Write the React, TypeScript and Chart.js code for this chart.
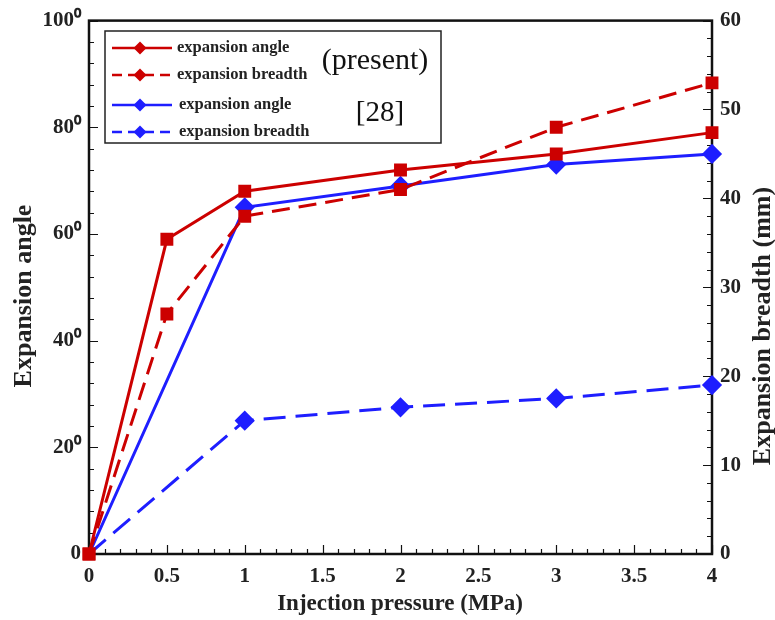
import React, { useEffect, useRef } from "react";
import { Chart, registerables } from "chart.js";

Chart.register(...registerables);

const presentPressure = [0, 0.5, 1, 2, 3, 4];
const presentAngle = [0, 59, 68, 72, 75, 79];
const presentBreadth = [0, 27, 38, 41, 48, 53];
const refPressure = [0, 1, 2, 3, 4];
const refAngle = [0, 65, 69, 73, 75];
const refBreadth = [0, 15, 16.5, 17.5, 19];

const legendLabels = ["expansion angle", "expansion breadth", "expansion angle", "expansion breadth"];
const groupLabels = ["(present)", "[28]"];
const xTitle = "Injection pressure (MPa)";
const yTitle = "Expansion angle";
const y1Title = "Expansion breadth (mm)";

const RED = "#cc0000";
const BLUE = "#1e1eff";
const SERIF = "'Liberation Serif', 'Times New Roman', serif";

const toXY = (xs: number[], ys: number[]) => xs.map((x, i) => ({ x, y: ys[i] }));

const framePlugin = {
  id: "frame",
  beforeDatasetsDraw(chart: any) {
    const { ctx, chartArea: a, scales } = chart;
    ctx.save();
    ctx.strokeStyle = "#111";
    ctx.lineWidth = 1.2;
    const x = scales.x, yl = scales.y, yr = scales.y1;
    ctx.beginPath();
    for (let v = 0; v <= 4.0001; v += 0.1) {
      const px = Math.round(x.getPixelForValue(v)) + 0.5;
      const major = Math.abs(v * 2 - Math.round(v * 2)) < 1e-6;
      const len = major ? 9 : 5;
      ctx.moveTo(px, a.bottom);
      ctx.lineTo(px, a.bottom - len);
    }
    for (let v = 0; v <= 100.001; v += 4) {
      const py = Math.round(yl.getPixelForValue(v)) + 0.5;
      const len = v % 20 === 0 ? 9 : 5;
      ctx.moveTo(a.left, py);
      ctx.lineTo(a.left + len, py);
    }
    for (let v = 0; v <= 60.001; v += 2) {
      const py = Math.round(yr.getPixelForValue(v)) + 0.5;
      const len = v % 10 === 0 ? 9 : 5;
      ctx.moveTo(a.right, py);
      ctx.lineTo(a.right - len, py);
    }
    ctx.stroke();
    ctx.lineWidth = 2.5;
    ctx.strokeRect(a.left, a.top, a.right - a.left, a.bottom - a.top);
    ctx.restore();
  },
  afterDatasetsDraw(chart: any) {
    const { ctx } = chart;
    ctx.save();
    // axis titles
    ctx.fillStyle = "#222";
    ctx.textAlign = "center";
    ctx.textBaseline = "middle";
    ctx.font = `bold 23px ${SERIF}`;
    ctx.fillText(xTitle, 400, 604);
    ctx.font = `bold 26px ${SERIF}`;
    ctx.save();
    ctx.translate(24, 296);
    ctx.rotate(-Math.PI / 2);
    ctx.fillText(yTitle, 0, 0);
    ctx.restore();
    ctx.save();
    ctx.translate(763, 326);
    ctx.rotate(-Math.PI / 2);
    ctx.fillText(y1Title, 0, 0);
    ctx.restore();

    // legend box
    const bx = 105, by = 31, bw = 336, bh = 112;
    ctx.fillStyle = "#fff";
    ctx.fillRect(bx, by, bw, bh);
    ctx.strokeStyle = "#222";
    ctx.lineWidth = 1.5;
    ctx.strokeRect(bx, by, bw, bh);
    const rows = [48, 75, 105, 132];
    const colors = [RED, RED, BLUE, BLUE];
    const dashed = [false, true, false, true];
    rows.forEach((ry, i) => {
      ctx.strokeStyle = colors[i];
      ctx.fillStyle = colors[i];
      ctx.lineWidth = 2.5;
      ctx.setLineDash(dashed[i] ? [10, 6] : []);
      ctx.beginPath();
      ctx.moveTo(112, ry);
      ctx.lineTo(172, ry);
      ctx.stroke();
      ctx.setLineDash([]);
      ctx.beginPath();
      const cx = 140, r = 6.5;
      ctx.moveTo(cx, ry - r);
      ctx.lineTo(cx + r, ry);
      ctx.lineTo(cx, ry + r);
      ctx.lineTo(cx - r, ry);
      ctx.closePath();
      ctx.fill();
      ctx.fillStyle = "#222";
      ctx.font = `bold 16.5px ${SERIF}`;
      ctx.textBaseline = "middle";
      ctx.textAlign = "left";
      ctx.fillText(legendLabels[i], i < 2 ? 177 : 179, ry);
    });
    ctx.textAlign = "center";
    ctx.textBaseline = "middle";
    ctx.fillStyle = "#111";
    ctx.font = `30px ${SERIF}`;
    ctx.fillText(groupLabels[0], 375, 61);
    ctx.font = `29px ${SERIF}`;
    ctx.fillText(groupLabels[1], 380, 113);
    ctx.restore();
  },
};

export default function App() {
  const ref = useRef<HTMLCanvasElement>(null);
  useEffect(() => {
    const tickFont = { family: SERIF, size: 21, weight: "bold" as const };
    const chart = new Chart(ref.current!, {
      type: "line",
      data: {
        datasets: [
          {
            label: "expansion angle (present)",
            data: toXY(presentPressure, presentAngle),
            borderColor: RED,
            backgroundColor: RED,
            borderWidth: 3,
            pointStyle: "rect",
            pointRadius: 7,
            yAxisID: "y",
            clip: false as any,
          },
          {
            label: "expansion breadth (present)",
            data: toXY(presentPressure, presentBreadth),
            borderColor: RED,
            backgroundColor: RED,
            borderWidth: 3,
            borderDash: [18, 9],
            pointStyle: "rect",
            pointRadius: 7,
            yAxisID: "y1",
            clip: false as any,
          },
          {
            label: "expansion angle [28]",
            data: toXY(refPressure, refAngle),
            borderColor: BLUE,
            backgroundColor: BLUE,
            borderWidth: 3,
            pointStyle: "rectRot",
            pointRadius: refPressure.map((p) => (p === 0 ? 0 : 8)),
            yAxisID: "y",
            clip: false as any,
          },
          {
            label: "expansion breadth [28]",
            data: toXY(refPressure, refBreadth),
            borderColor: BLUE,
            backgroundColor: BLUE,
            borderWidth: 3,
            borderDash: [22, 10],
            pointStyle: "rectRot",
            pointRadius: refPressure.map((p) => (p === 0 ? 0 : 8)),
            yAxisID: "y1",
            clip: false as any,
          },
        ],
      },
      options: {
        animation: false,
        responsive: true,
        maintainAspectRatio: false,
        layout: { padding: { top: 16, left: 0, right: 0, bottom: 0 } },
        plugins: { legend: { display: false }, tooltip: { enabled: false } },
        scales: {
          x: {
            type: "linear",
            min: 0,
            max: 4,
            grid: { display: false, drawTicks: false },
            border: { display: false },
            ticks: {
              stepSize: 0.5,
              color: "#222",
              font: tickFont,
              padding: 10,
              autoSkip: false,
              maxRotation: 0,
              callback: (v: any) => `${v}`,
            },
            afterFit: (s: any) => { s.height = 66; },
          },
          y: {
            position: "left",
            min: 0,
            max: 100,
            grid: { display: false, drawTicks: false },
            border: { display: false },
            ticks: {
              stepSize: 20,
              color: "#222",
              font: tickFont,
              padding: 8,
              callback: (v: any) => (v === 0 ? "0" : `${v}\u2070`),
            },
            afterFit: (s: any) => { s.width = 89; },
          },
          y1: {
            position: "right",
            min: 0,
            max: 60,
            grid: { display: false, drawTicks: false },
            border: { display: false },
            ticks: { stepSize: 10, color: "#222", font: tickFont, padding: 8 },
            afterFit: (s: any) => { s.width = 63; },
          },
        },
      },
      plugins: [framePlugin],
    });
    return () => chart.destroy();
  }, []);
  return (
    <div style={{ position: "fixed", left: 0, top: 0, width: 775, height: 620, background: "#fff" }}>
      <canvas ref={ref} />
    </div>
  );
}
